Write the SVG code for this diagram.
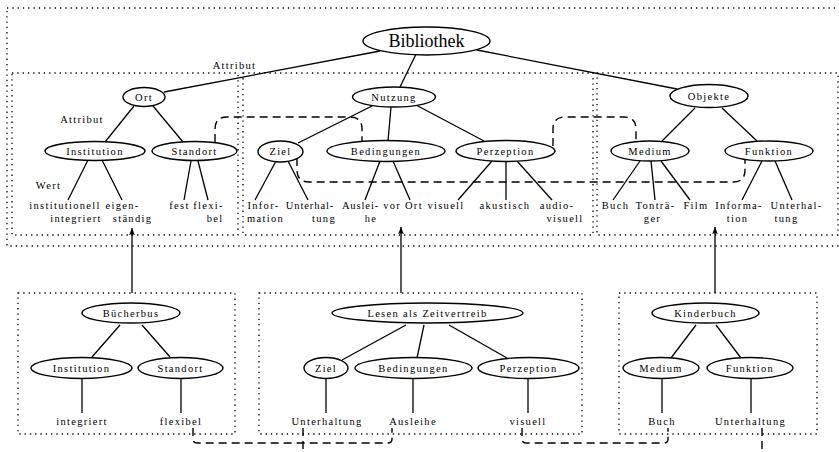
<svg xmlns="http://www.w3.org/2000/svg" width="839" height="452" viewBox="0 0 839 452">
<defs>
<style>
.frame{fill:none;stroke:#000;stroke-width:1.3;stroke-dasharray:1.3 4;}
.e{fill:#fff;stroke:#000;stroke-width:1.4;}
.l{stroke:#000;stroke-width:1.3;fill:none;}
.d{stroke:#000;stroke-width:1.4;fill:none;stroke-dasharray:8 5;}
.a{stroke:#000;stroke-width:1.3;fill:none;marker-end:url(#ah);}
text{font-family:"Liberation Serif","DejaVu Serif",serif;font-size:10.5px;letter-spacing:1.3px;text-anchor:middle;fill:#000;}
.big{font-size:18px;letter-spacing:0;}
.tight{letter-spacing:0.9px;}
</style>
<marker id="ah" markerWidth="8" markerHeight="8" refX="7" refY="4" orient="auto" markerUnits="userSpaceOnUse">
<path d="M0,1.2 L7,4 L0,6.8 Q1.5,4 0,1.2 Z" fill="#000"/>
</marker>
</defs>

<g id="frames">
<rect class="frame" x="7" y="8" width="840" height="238"/>
<rect class="frame" x="12" y="73" width="226" height="162"/>
<rect class="frame" x="243" y="73" width="350" height="162"/>
<rect class="frame" x="597" y="73" width="241" height="162"/>
<rect class="frame" x="18" y="293" width="217" height="141"/>
<rect class="frame" x="259" y="293" width="323" height="141"/>
<rect class="frame" x="619" y="293" width="198" height="141"/>
</g>

<g id="connectors">
<line class="l" x1="380" y1="51" x2="164" y2="92"/>
<line class="l" x1="419" y1="48" x2="400" y2="87"/>
<line class="l" x1="477" y1="50" x2="677" y2="89"/>
<line class="l" x1="134" y1="106" x2="105" y2="142"/>
<line class="l" x1="153" y1="106" x2="183" y2="142"/>
<line class="l" x1="372" y1="106" x2="298" y2="143"/>
<line class="l" x1="391" y1="107" x2="388" y2="141"/>
<line class="l" x1="416" y1="105" x2="484" y2="141"/>
<line class="l" x1="695" y1="108" x2="662" y2="141"/>
<line class="l" x1="722" y1="108" x2="757" y2="141"/>
<line class="l" x1="88" y1="160" x2="68" y2="200"/>
<line class="l" x1="102" y1="160" x2="122" y2="200"/>
<line class="l" x1="191" y1="161" x2="184" y2="200"/>
<line class="l" x1="198" y1="161" x2="208" y2="200"/>
<line class="l" x1="276" y1="161" x2="255" y2="200"/>
<line class="l" x1="288" y1="161" x2="308" y2="200"/>
<line class="l" x1="380" y1="161" x2="365" y2="200"/>
<line class="l" x1="393" y1="161" x2="410" y2="200"/>
<line class="l" x1="492" y1="161" x2="458" y2="200"/>
<line class="l" x1="506" y1="161" x2="506" y2="200"/>
<line class="l" x1="517" y1="161" x2="552" y2="200"/>
<line class="l" x1="640" y1="161" x2="613" y2="200"/>
<line class="l" x1="651" y1="161" x2="655" y2="200"/>
<line class="l" x1="661" y1="161" x2="690" y2="200"/>
<line class="l" x1="762" y1="161" x2="742" y2="200"/>
<line class="l" x1="775" y1="161" x2="792" y2="200"/>
<path class="d" d="M215,142 V129 Q215,117 227,117 H350 Q362,117 362,129 V142"/>
<path class="d" d="M553,146 V129 Q553,117 565,117 H624 Q636,117 636,129 V142"/>
<path class="d" d="M297,158 V170 Q297,182 309,182 H733 Q745,182 745,170 V159"/>
<line class="l" x1="120" y1="325" x2="92" y2="357"/>
<line class="l" x1="142" y1="325" x2="170" y2="357"/>
<line class="l" x1="82" y1="379" x2="82" y2="413"/>
<line class="l" x1="181" y1="379" x2="181" y2="413"/>
<line class="l" x1="406" y1="325" x2="342" y2="360"/>
<line class="l" x1="424" y1="325" x2="417" y2="358"/>
<line class="l" x1="449" y1="325" x2="507" y2="358"/>
<line class="l" x1="326" y1="379" x2="326" y2="413"/>
<line class="l" x1="413" y1="379" x2="413" y2="413"/>
<line class="l" x1="528" y1="379" x2="528" y2="413"/>
<line class="l" x1="696" y1="325" x2="671" y2="358"/>
<line class="l" x1="716" y1="325" x2="741" y2="358"/>
<line class="l" x1="662" y1="379" x2="662" y2="413"/>
<line class="l" x1="751" y1="379" x2="751" y2="413"/>
<path class="d" d="M193,428 V439 Q193,443 197,443 H388 Q392,443 392,439 V428"/>
<path class="d" d="M303,428 V452"/>
<path class="d" d="M522,428 V439 Q522,443 526,443 H664 Q668,443 668,439 V428"/>
<path class="d" d="M762,428 V452"/>
<line class="a" x1="132" y1="293" x2="132" y2="228"/>
<line class="a" x1="401" y1="293" x2="401" y2="227"/>
<line class="a" x1="715" y1="293" x2="715" y2="227"/>
</g>

<g id="labels">
<text x="234.5" y="68.5">Attribut</text>
<text x="82" y="123">Attribut</text>
<text x="48.5" y="188.5">Wert</text>
</g>

<g id="n-bibliothek"><ellipse class="e" cx="426.5" cy="41" rx="63.5" ry="14"/><text class="big" x="426.5" y="47">Bibliothek</text></g>
<g id="n-ort"><ellipse class="e" cx="144" cy="97" rx="21" ry="9.5"/><text x="144" y="100.5">Ort</text></g>
<g id="n-nutzung"><ellipse class="e" cx="394" cy="97" rx="41.5" ry="10"/><text x="394" y="100.5">Nutzung</text></g>
<g id="n-objekte"><ellipse class="e" cx="709" cy="96" rx="39" ry="11.5"/><text x="709" y="99.5">Objekte</text></g>

<g id="n-institution"><ellipse class="e" cx="95" cy="151" rx="50" ry="9.5"/><text x="95" y="154.5">Institution</text></g>
<g id="n-standort"><ellipse class="e" cx="194.5" cy="151" rx="42.5" ry="9.5"/><text x="194.5" y="154.5">Standort</text></g>
<g id="n-ziel"><ellipse class="e" cx="280.5" cy="151.5" rx="22.5" ry="10.5"/><text x="280.5" y="155">Ziel</text></g>
<g id="n-bedingungen"><ellipse class="e" cx="386" cy="151" rx="59" ry="10.5"/><text x="386" y="154.5">Bedingungen</text></g>
<g id="n-perzeption"><ellipse class="e" cx="505.5" cy="151" rx="49.5" ry="10.5"/><text x="505.5" y="154.5">Perzeption</text></g>
<g id="n-medium"><ellipse class="e" cx="650" cy="151" rx="39" ry="10"/><text x="650" y="154.5">Medium</text></g>
<g id="n-funktion"><ellipse class="e" cx="769" cy="151" rx="44" ry="10"/><text x="769" y="154.5">Funktion</text></g>

<g id="leaf-institutionell"><text x="65" y="209">institutionell</text><text x="76" y="222">integriert</text></g>
<g id="leaf-eigenstaendig"><text x="122.5" y="209">eigen-</text><text x="132.5" y="222">ständig</text></g>
<g id="leaf-fest"><text x="179.5" y="209">fest</text></g>
<g id="leaf-flexibel"><text x="208.5" y="209">flexi-</text><text x="215" y="222">bel</text></g>
<g id="leaf-information"><text x="263.5" y="209">Infor-</text><text x="265.5" y="222">mation</text></g>
<g id="leaf-unterhaltung"><text class="tight" x="310" y="209">Unterhal-</text><text x="324" y="222">tung</text></g>
<g id="leaf-ausleihe"><text class="tight" x="360.5" y="209">Auslei-</text><text x="371" y="222">he</text></g>
<g id="leaf-vorort"><text x="403" y="209">vor Ort</text></g>
<g id="leaf-visuell"><text x="446" y="209">visuell</text></g>
<g id="leaf-akustisch"><text x="505" y="209">akustisch</text></g>
<g id="leaf-audiovisuell"><text x="557" y="209">audio-</text><text x="565" y="222">visuell</text></g>
<g id="leaf-buch"><text x="615.5" y="209">Buch</text></g>
<g id="leaf-tontraeger"><text x="655.5" y="209">Tonträ-</text><text x="652.5" y="222">ger</text></g>
<g id="leaf-film"><text x="696" y="209">Film</text></g>
<g id="leaf-information2"><text x="739" y="209">Informa-</text><text x="737.5" y="222">tion</text></g>
<g id="leaf-unterhaltung2"><text x="796.5" y="209">Unterhal-</text><text x="786.5" y="222">tung</text></g>

<g id="n-buecherbus"><ellipse class="e" cx="131" cy="313" rx="49" ry="10"/><text x="131" y="316.5">Bücherbus</text></g>
<g id="n-b-institution"><ellipse class="e" cx="81.5" cy="368" rx="50.5" ry="10.5"/><text x="81.5" y="371.5">Institution</text></g>
<g id="n-b-standort"><ellipse class="e" cx="180.5" cy="368" rx="42.5" ry="10.5"/><text x="180.5" y="371.5">Standort</text></g>
<g id="leaf-b-integriert"><text x="82" y="425">integriert</text></g>
<g id="leaf-b-flexibel"><text x="181" y="425">flexibel</text></g>

<g id="n-lesen"><ellipse class="e" cx="427.5" cy="313" rx="95.5" ry="10"/><text x="427.5" y="316.5">Lesen als Zeitvertreib</text></g>
<g id="n-l-ziel"><ellipse class="e" cx="326" cy="368" rx="22" ry="10.5"/><text x="326" y="371.5">Ziel</text></g>
<g id="n-l-bedingungen"><ellipse class="e" cx="413.5" cy="368" rx="58.5" ry="10.5"/><text x="413.5" y="371.5">Bedingungen</text></g>
<g id="n-l-perzeption"><ellipse class="e" cx="528.5" cy="368" rx="50.5" ry="10.5"/><text x="528.5" y="371.5">Perzeption</text></g>
<g id="leaf-l-unterhaltung"><text x="327" y="425">Unterhaltung</text></g>
<g id="leaf-l-ausleihe"><text x="413" y="425">Ausleihe</text></g>
<g id="leaf-l-visuell"><text x="528" y="425">visuell</text></g>

<g id="n-kinderbuch"><ellipse class="e" cx="705.5" cy="313" rx="53.5" ry="10"/><text x="705.5" y="316.5">Kinderbuch</text></g>
<g id="n-k-medium"><ellipse class="e" cx="661" cy="368" rx="38" ry="10.5"/><text x="661" y="371.5">Medium</text></g>
<g id="n-k-funktion"><ellipse class="e" cx="750" cy="368" rx="43" ry="10.5"/><text x="750" y="371.5">Funktion</text></g>
<g id="leaf-k-buch"><text x="662" y="425">Buch</text></g>
<g id="leaf-k-unterhaltung"><text x="750.5" y="425">Unterhaltung</text></g>
</svg>
